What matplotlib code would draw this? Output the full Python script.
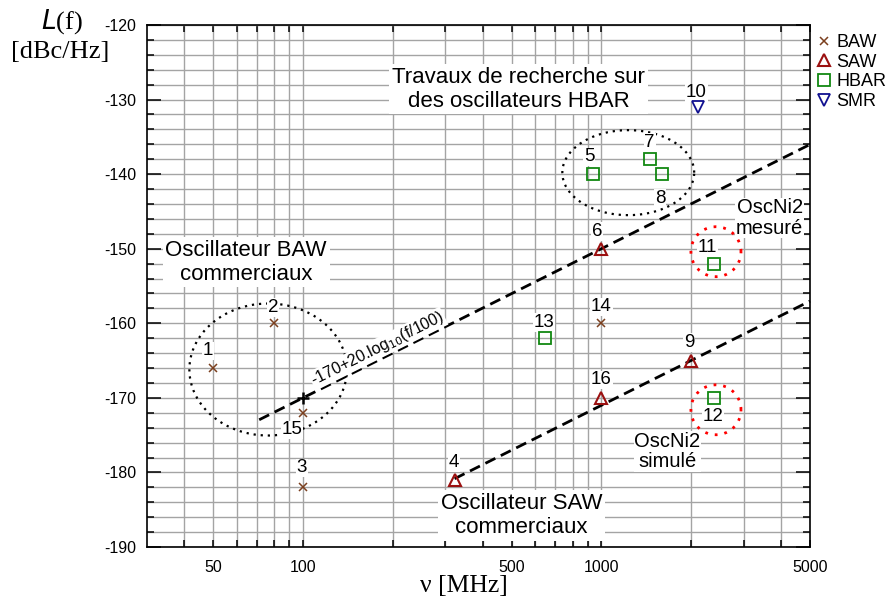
import matplotlib
matplotlib.use("Agg")
import matplotlib.pyplot as plt
import numpy as np
from matplotlib.ticker import FixedLocator, NullFormatter

# ── data (frequency in MHz, phase noise in dBc/Hz) ────────────────────────────
baw_f  = [50, 80, 100, 1000, 100]
baw_l  = [-166, -160, -182, -160, -172]
baw_id = [1, 2, 3, 14, 15]

saw_f  = [322, 1000, 2000, 1000]
saw_l  = [-181, -150, -165, -170]
saw_id = [4, 6, 9, 16]

hbar_f  = [935, 1460, 1600, 2390, 2390, 648]
hbar_l  = [-140, -138, -140, -152, -170, -162]
hbar_id = [5, 7, 8, 11, 12, 13]

smr_f  = [2100]
smr_l  = [-131]
smr_id = [10]

# reference lines L = a + 20.log10(f/100)
line_a     = [-170, -191]
line_start = [71.3, 322]
line_stop  = 5000

# ── label placement (data coords) ────────────────────────────────────────────
id_pos = {
    1: (48, -163.7), 2: (79.4, -157.9), 3: (99, -179.4), 4: (320, -178.7),
    5: (910, -137.7), 6: (967, -147.7), 7: (1450, -135.7), 8: (1575, -143.2),
    9: (1970, -162.6), 10: (2080, -129.1), 11: (2265, -149.9), 12: (2370, -172.5),
    13: (643, -159.9), 14: (1000, -157.8), 15: (91.9, -174.3), 16: (1000, -167.6),
}

BAW_C  = "#7b3f1e"
SAW_C  = "#9b1010"
HBAR_C = "#118811"
SMR_C  = "#101090"
GRID_C = "#a4a4a4"

plt.rcParams["font.family"] = ["Liberation Sans", "DejaVu Sans"]
plt.rcParams["axes.unicode_minus"] = False

fig = plt.figure(figsize=(8.91, 5.97), dpi=100)
ax = fig.add_axes([147 / 891, 1 - 547 / 597, 663 / 891, 522 / 597])
ax.set_xscale("log")
ax.set_xlim(30, 5000)
ax.set_ylim(-190, -120)

# ticks & grid
ax.xaxis.set_major_locator(FixedLocator([50, 100, 500, 1000, 5000]))
minor_x = [m * 10 ** k for k in (1, 2, 3) for m in range(1, 10)]
minor_x = [v for v in minor_x if 30 < v < 5000]
ax.xaxis.set_minor_locator(FixedLocator(minor_x))
ax.xaxis.set_minor_formatter(NullFormatter())
ax.set_xticklabels(["50", "100", "500", "1000", "5000"])
ax.yaxis.set_major_locator(FixedLocator(np.arange(-190, -119, 10)))
ax.yaxis.set_minor_locator(FixedLocator(np.arange(-190, -119, 2)))
ax.tick_params(which="both", direction="in", top=True, right=True,
               labelsize=11.5, width=1.1)
ax.tick_params(axis="y", which="major", length=10, pad=8)
ax.tick_params(axis="y", which="minor", length=5)
ax.tick_params(axis="x", which="both", length=5, pad=9)
ax.grid(which="both", color=GRID_C, lw=1.0, zorder=0)
ax.set_axisbelow(True)
for s in ax.spines.values():
    s.set_linewidth(1.2)

# reference lines
for a, f0 in zip(line_a, line_start):
    f = np.logspace(np.log10(f0), np.log10(line_stop), 50)
    ax.plot(f, a + 20 * np.log10(f / 100), color="black", lw=2,
            ls=(0, (4, 2.2)), zorder=3, clip_on=False)
ax.plot([100], [-170], marker="+", color="black", ms=9, mew=1.8, zorder=4)

# markers
ax.plot(baw_f, baw_l, ls="none", marker="x", ms=6, mew=1.1, color=BAW_C,
        label="BAW", zorder=5)
ax.plot(saw_f, saw_l, ls="none", marker="^", ms=9, mew=1.5, mfc="none",
        color=SAW_C, label="SAW", zorder=5)
ax.plot(hbar_f, hbar_l, ls="none", marker="s", ms=9, mew=1.3, mfc="none",
        color=HBAR_C, label="HBAR", zorder=5)
ax.plot(smr_f, smr_l, ls="none", marker="v", ms=9, mew=1.3, mfc="none",
        color=SMR_C, label="SMR", zorder=5)

# point numbers
white = dict(facecolor="white", edgecolor="none", pad=0.5)
for i in baw_id + saw_id + hbar_id + smr_id:
    x, y = id_pos[i]
    ax.text(x, y, str(i), ha="center", va="center", fontsize=13.5,
            bbox=white, zorder=4.5)

# dotted ellipses (centre f, centre dB, half-width in decades, half-height in dB)
def ellipse(fc, lc, dx, dy, **kw):
    t = np.linspace(0, 2 * np.pi, 300)
    ax.plot(10 ** (np.log10(fc) + dx * np.cos(t)), lc + dy * np.sin(t), **kw)

ellipse(76.4, -166.2, 0.264, 8.85, color="black", lw=1.6, ls=(0, (1, 2.2)), zorder=4)
ellipse(1230, -139.8, 0.221, 5.7, color="black", lw=1.6, ls=(0, (1, 2.2)), zorder=4)
ellipse(2420, -150.4, 0.084, 3.35, color="red", lw=2, ls=(0, (1, 2.5)), zorder=4)
ellipse(2420, -171.6, 0.084, 3.35, color="red", lw=2, ls=(0, (1, 2.5)), zorder=4)

# annotation blocks
box = dict(facecolor="white", edgecolor="none", pad=2)
ax.text(64.5, -151.8, "Oscillateur BAW\ncommerciaux", ha="center", va="center",
        fontsize=16, bbox=box, zorder=7, linespacing=1.2)
ax.text(527, -128.6, "Travaux de recherche sur\ndes oscillateurs HBAR",
        ha="center", va="center", fontsize=16, bbox=box, zorder=7, linespacing=1.2)
ax.text(540, -185.8, "Oscillateur SAW\ncommerciaux", ha="center", va="center",
        fontsize=16, bbox=box, zorder=7, linespacing=1.2)
ax.text(3664, -145.9, "OscNi2\nmesuré", ha="center", va="center",
        fontsize=14.5, bbox=dict(facecolor="white", edgecolor="none", pad=0.5),
        zorder=7, linespacing=1.1)
ax.text(1663, -177.2, "OscNi2\nsimulé", ha="center", va="center",
        fontsize=14.5, bbox=dict(facecolor="white", edgecolor="none", pad=0.5),
        zorder=7, linespacing=1.1)

# rotated equation label along the upper line
p1 = ax.transData.transform((100, -170))
p2 = ax.transData.transform((1000, -150))
ang = np.degrees(np.arctan2(p2[1] - p1[1], p2[0] - p1[0]))
ax.text(178, -163.4, r"-170+20.log$_{10}$(f/100)", rotation=ang,
        rotation_mode="anchor", ha="center", va="center", fontsize=11.5,
        bbox=dict(facecolor="white", edgecolor="none", pad=0.3), zorder=6)

# legend outside on the right
ax.legend(loc="upper left", bbox_to_anchor=(1.0, 1.0), frameon=False,
          fontsize=13, handlelength=0.6, handletextpad=0.35, borderaxespad=0.2,
          labelspacing=0.15, borderpad=0.3)

# axis titles
fig.text(62 / 891, 1 - 22 / 597, r"$\mathit{L}$(f)", ha="center", va="center",
         fontsize=19, family="Liberation Serif")
fig.text(60 / 891, 1 - 52 / 597, "[dBc/Hz]", ha="center", va="center",
         fontsize=19, family="Liberation Serif")
fig.text(464 / 891, 1 - 586 / 597, "ν [MHz]", ha="center", va="center",
         fontsize=18.5, family="Liberation Serif")

fig.savefig("out.png", dpi=100)
